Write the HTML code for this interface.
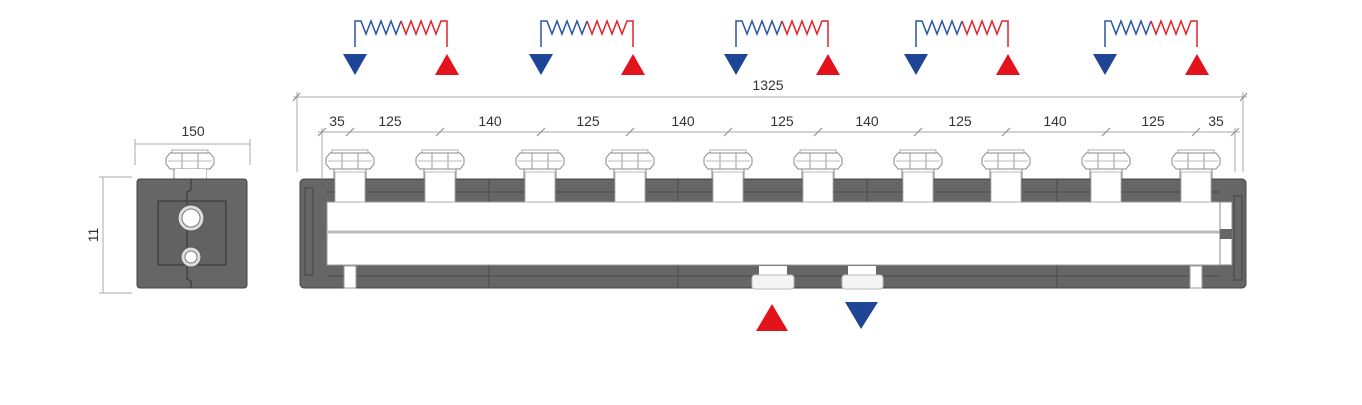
<!DOCTYPE html>
<html><head><style>html,body{margin:0;padding:0;background:#fff}svg{display:block}</style></head>
<body>
<svg width="1362" height="405" viewBox="0 0 1362 405" xmlns="http://www.w3.org/2000/svg" font-family="Liberation Sans, sans-serif">
<defs>
<g id="sym">
  <polyline points="0,47 0,21 6,21 11,34 16,21 21,34 26,21 31,34 36,21 41,34 46,21" fill="none" stroke="#2a55a6" stroke-width="1.5"/>
  <polyline points="46,21 51,34 56,21 61,34 66,21 71,34 76,21 81,34 86,21 92,21 92,47" fill="none" stroke="#e3222a" stroke-width="1.5"/>
  <polygon points="-12,54 12,54 0,75" fill="#1f4597"/>
  <polygon points="80,75 104,75 92,54" fill="#e2131c"/>
</g>
<g id="nut">
  <rect x="-18" y="150" width="36" height="3" fill="#fff" stroke="#999" stroke-width="0.8"/>
  <path d="M-20,153 H20 L24,158 V164 L20,169 H-20 L-24,164 V158 Z" fill="#fff" stroke="#888" stroke-width="1"/>
  <line x1="-8" y1="153" x2="-8" y2="169" stroke="#999"/><line x1="8" y1="153" x2="8" y2="169" stroke="#999"/>
  <line x1="-22" y1="161" x2="22" y2="161" stroke="#bbb"/>
  <line x1="-16" y1="169" x2="-16" y2="179" stroke="#888"/><line x1="16" y1="169" x2="16" y2="179" stroke="#888"/>
</g>
<g id="nip">
  <rect x="-15" y="172" width="30" height="30" fill="#fff" stroke="#aaa" stroke-width="0.8"/>
  <use href="#nut"/>
</g>
</defs>
<use href="#sym" x="355"/><use href="#sym" x="541"/><use href="#sym" x="736"/><use href="#sym" x="916"/><use href="#sym" x="1105"/>

<g stroke="#aaa" stroke-width="1" fill="none">
  <line x1="293" y1="97" x2="1247" y2="97"/>
  <line x1="297" y1="92" x2="297" y2="172"/>
  <line x1="1243" y1="92" x2="1243" y2="172"/>
  <line x1="318" y1="132" x2="1240" y2="132"/>
  <line x1="322" y1="128" x2="322" y2="178"/>
  <line x1="1235" y1="128" x2="1235" y2="172"/>
  <g stroke="#888">
  <line x1="293" y1="101" x2="300" y2="93"/><line x1="1240" y1="101" x2="1247" y2="93"/>
  <line x1="318" y1="136" x2="326" y2="128"/><line x1="346" y1="136" x2="354" y2="128"/><line x1="436" y1="136" x2="444" y2="128"/><line x1="537" y1="136" x2="545" y2="128"/><line x1="626" y1="136" x2="634" y2="128"/><line x1="724" y1="136" x2="732" y2="128"/><line x1="814" y1="136" x2="822" y2="128"/><line x1="914" y1="136" x2="922" y2="128"/><line x1="1002" y1="136" x2="1010" y2="128"/><line x1="1102" y1="136" x2="1110" y2="128"/><line x1="1192" y1="136" x2="1200" y2="128"/><line x1="1231" y1="136" x2="1239" y2="128"/>
  </g>
  <line x1="135" y1="144" x2="250" y2="144"/>
  <line x1="135" y1="139" x2="135" y2="165"/><line x1="250" y1="139" x2="250" y2="165"/>
  <line x1="103" y1="177" x2="103" y2="293"/>
  <line x1="99" y1="177" x2="132" y2="177"/><line x1="99" y1="293" x2="132" y2="293"/>
</g>
<g font-size="14" fill="#333" text-anchor="middle">
  <text x="768" y="90">1325</text>
  <text x="337" y="126">35</text><text x="390" y="126">125</text><text x="490" y="126">140</text><text x="588" y="126">125</text><text x="683" y="126">140</text><text x="782" y="126">125</text><text x="867" y="126">140</text><text x="960" y="126">125</text><text x="1055" y="126">140</text><text x="1153" y="126">125</text><text x="1216" y="126">35</text>
  <text x="193" y="136">150</text>
  <text x="0" y="0" transform="translate(98,235) rotate(-90)">11</text>
</g>

<!-- side view -->
<use href="#nut" x="190"/>
<rect x="175" y="169" width="31" height="10" fill="#fff"/>
<rect x="137" y="179" width="110" height="109" rx="3" fill="#666" stroke="#444"/>
<rect x="158" y="201" width="68" height="64" fill="#626262" stroke="#333"/>
<polyline points="191,179 191,190 187,192 187,279 191,281 191,288" fill="none" stroke="#333"/>
<circle cx="191" cy="218" r="13" fill="#ddd" stroke="#555"/><circle cx="191" cy="218" r="9" fill="#fff" stroke="#777"/>
<circle cx="191" cy="257" r="10" fill="#ddd" stroke="#555"/><circle cx="191" cy="257" r="6" fill="#fff" stroke="#777"/>

<!-- main body -->
<rect x="300" y="179" width="946" height="109" rx="4" fill="#666" stroke="#444"/>
<g stroke="#4a4a4a" fill="none">
  <line x1="489" y1="179" x2="489" y2="202"/><line x1="678" y1="179" x2="678" y2="202"/><line x1="867" y1="179" x2="867" y2="202"/><line x1="1057" y1="179" x2="1057" y2="202"/>
  <line x1="489" y1="265" x2="489" y2="288"/><line x1="678" y1="265" x2="678" y2="288"/><line x1="867" y1="265" x2="867" y2="288"/><line x1="1057" y1="265" x2="1057" y2="288"/>
  <line x1="327" y1="192" x2="1220" y2="192"/><line x1="327" y1="276" x2="1220" y2="276"/>
</g>
<rect x="327" y="202" width="893" height="63" fill="#fff" stroke="#999"/>
<line x1="327" y1="232" x2="1220" y2="232" stroke="#bbb" stroke-width="3"/>
<rect x="1220" y="202" width="12" height="63" fill="#fff" stroke="#888"/>
<rect x="1220" y="229" width="12" height="10" fill="#666"/>
<rect x="305" y="188" width="8" height="87" fill="none" stroke="#444"/>
<rect x="1234" y="196" width="8" height="84" fill="none" stroke="#444"/>
<use href="#nip" x="350"/><use href="#nip" x="440"/><use href="#nip" x="540"/><use href="#nip" x="630"/><use href="#nip" x="728"/><use href="#nip" x="818"/><use href="#nip" x="918"/><use href="#nip" x="1006"/><use href="#nip" x="1106"/><use href="#nip" x="1196"/>
<rect x="344" y="266" width="12" height="22" fill="#fff" stroke="#999"/>
<rect x="1190" y="266" width="12" height="22" fill="#fff" stroke="#999"/>
<rect x="759" y="266" width="28" height="10" fill="#fff"/><rect x="752" y="275" width="42" height="14" rx="3" fill="#f4f4f4" stroke="#bbb"/>
<rect x="848" y="266" width="28" height="10" fill="#fff"/><rect x="842" y="275" width="41" height="14" rx="3" fill="#f4f4f4" stroke="#bbb"/>
<polygon points="756,331 788,331 772,304" fill="#e2131c"/>
<polygon points="845,302 878,302 861,329" fill="#1f4597"/>
</svg>
</body></html>
